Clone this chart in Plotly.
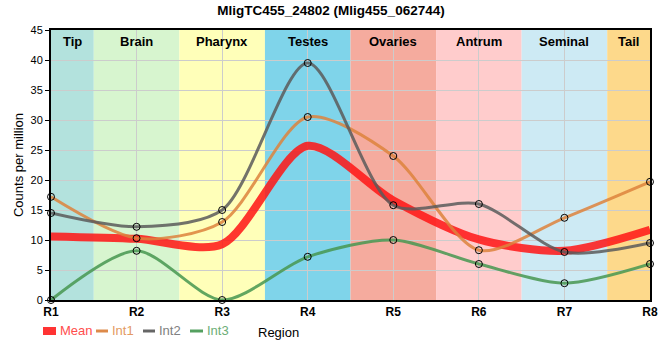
import plotly.graph_objects as go

regions = ["R1", "R2", "R3", "R4", "R5", "R6", "R7", "R8"]
mean_vals = [10.6, 10.2, 9.3, 25.7, 16.6, 10.1, 8.2, 11.7]
int1_vals = [17.2, 10.3, 13.0, 30.5, 24.0, 8.3, 13.7, 19.7]
int2_vals = [14.5, 12.2, 15.0, 39.5, 15.8, 16.0, 8.0, 9.5]
int3_vals = [0.0, 8.2, 0.0, 7.2, 10.0, 6.0, 2.8, 6.0]

band_names = ["Tip", "Brain", "Pharynx", "Testes", "Ovaries", "Antrum", "Seminal", "Tail"]
band_starts = [0, 0.5, 1.5, 2.5, 3.5, 4.5, 5.5, 6.5]
band_ends = [0.5, 1.5, 2.5, 3.5, 4.5, 5.5, 6.5, 7]
band_colors = ["#b3e2dd", "#d7f5cf", "#ffffb9", "#7fd4ea", "#f5ab9e", "#ffcccc", "#cdeaf4", "#fdd98b"]

xs = list(range(len(regions)))
FONT = "Liberation Sans, Arial"

W, H = 660, 360
L, R, T, B = 51, 10, 30, 60
PW, PH = W - L - R, H - T - B


def px(xp):
    return (xp - L) / PW


def py(yp):
    return (H - B - yp) / PH


SMOOTH = 0.8
fig = go.Figure()

fig.add_trace(go.Scatter(
    x=xs, y=mean_vals, mode="lines", name="Mean", showlegend=False,
    line=dict(color="rgba(255,20,20,0.85)", width=8, shape="spline", smoothing=SMOOTH),
    cliponaxis=False))

series = [("Int1", int1_vals, "rgba(221,130,60,0.85)"),
          ("Int2", int2_vals, "rgba(90,90,90,0.85)"),
          ("Int3", int3_vals, "rgba(70,150,80,0.85)")]
for name, vals, col in series:
    fig.add_trace(go.Scatter(
        x=xs, y=vals, mode="lines+markers", name=name, showlegend=False,
        line=dict(color=col, width=3, shape="spline", smoothing=SMOOTH),
        marker=dict(symbol="circle-open", size=7, color="black", line=dict(width=1, color="black")),
        cliponaxis=False))

shapes = []
annotations = []
for nm, s, e, c in zip(band_names, band_starts, band_ends, band_colors):
    shapes.append(dict(type="rect", xref="x", yref="y", x0=s, x1=e, y0=0, y1=45,
                       fillcolor=c, line=dict(width=0), layer="below"))
    annotations.append(dict(x=(s + e) / 2, y=py(41), xref="x", yref="paper", yanchor="middle",
                            text=f"<b>{nm}</b>", showarrow=False,
                            font=dict(size=13, color="black", family=FONT)))

# manual legend
leg_y = 331
shapes.append(dict(type="rect", xref="paper", yref="paper", x0=px(43), x1=px(56),
                   y0=py(335), y1=py(327), fillcolor="#ff3333", line=dict(width=0)))
annotations.append(dict(x=px(58), y=py(leg_y), xref="paper", yref="paper", xanchor="left",
                        yanchor="middle", text="Mean", showarrow=False,
                        font=dict(size=13, color="#ff4d4d", family=FONT)))
leg_items = [(96, 108, 110, "Int1", "#dd8a4a", "#e39a63"),
             (143, 155, 157, "Int2", "#666666", "#808080"),
             (190, 203, 205, "Int3", "#55a060", "#6cae76")]
for x0, x1, xt, nm, lc, tc in leg_items:
    shapes.append(dict(type="line", xref="paper", yref="paper", x0=px(x0), x1=px(x1),
                       y0=py(leg_y), y1=py(leg_y), line=dict(color=lc, width=3)))
    annotations.append(dict(x=px(xt), y=py(leg_y), xref="paper", yref="paper", xanchor="left",
                            yanchor="middle", text=nm, showarrow=False,
                            font=dict(size=13, color=tc, family=FONT)))

annotations.append(dict(x=px(278), y=py(332), xref="paper", yref="paper", text="Region",
                        showarrow=False, xanchor="center", yanchor="middle",
                        font=dict(size=13, color="black", family=FONT)))

fig.update_layout(
    width=W, height=H,
    margin=dict(l=L, r=R, t=T, b=B),
    paper_bgcolor="white", plot_bgcolor="white",
    title=dict(text="<b>MligTC455_24802 (Mlig455_062744)</b>", x=(331) / W, xanchor="center",
               y=1 - 10 / H, yanchor="middle", font=dict(size=13.5, color="black", family=FONT)),
    font=dict(family=FONT, size=13, color="black"),
    shapes=shapes,
    annotations=annotations,
    showlegend=False,
    xaxis=dict(range=[0, 7], tickvals=xs, ticktext=[f"<b>{r}</b>" for r in regions],
               showgrid=True, gridcolor="#cccccc", gridwidth=1, zeroline=False,
               showline=True, linecolor="black", linewidth=2, mirror=True, automargin=False,
               ticks="", tickfont=dict(size=12, family=FONT)),
    yaxis=dict(range=[0, 45], dtick=5, showgrid=True, gridcolor="#cccccc", gridwidth=1,
               zeroline=False, showline=True, linecolor="black", linewidth=2, mirror=True,
               automargin=False, ticks="outside", ticklen=4, tickcolor="black",
               title=dict(text="Counts per million", font=dict(size=13, family=FONT),
                          standoff=4),
               tickfont=dict(size=11, family=FONT)),
)

fig.write_html("out.html", config={"displayModeBar": False},
               post_script="document.body.style.margin='0';document.body.style.overflow='hidden';")
